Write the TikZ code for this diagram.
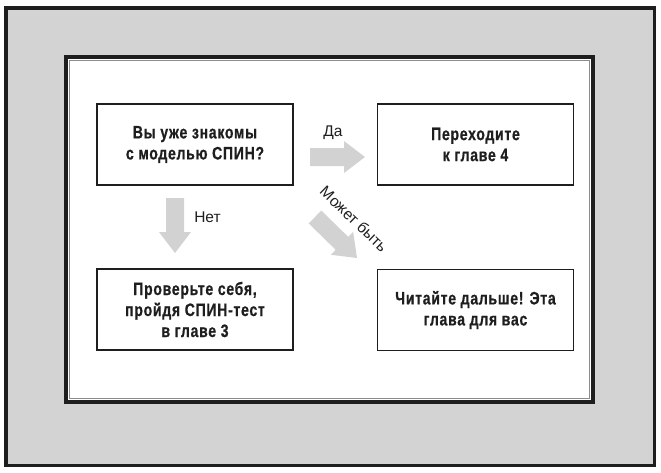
\documentclass[tikz,border=0pt]{standalone}
\usepackage{fontspec}
\setmainfont{Liberation Sans}
\newfontfamily\boxfont[FakeStretch=0.78,LetterSpace=4,FakeBold=0.6]{Liberation Sans}
\definecolor{bggray}{HTML}{D3D3D3}
\definecolor{arrowgray}{HTML}{D2D2D2}
\definecolor{inkc}{HTML}{1E1E1E}
\tikzset{
  box/.style={draw=inkc, line width=1.2pt, fill=white, minimum width=196pt, minimum height=81pt,
    align=center, inner sep=0pt, text=inkc, font=\boxfont\bfseries\fontsize{18}{21}\selectfont},
  lbl/.style={text=inkc, inner sep=0pt, font=\fontsize{15.5}{17}\selectfont},
  pics/blockarrow/.style={code={
    \fill[arrowgray] (0,-9) -- (#1-21,-9) -- (#1-21,-16) -- (#1,0) -- (#1-21,16) -- (#1-21,9) -- (0,9) -- cycle;}}
}
\begin{document}
\begin{tikzpicture}[x=1pt,y=-1pt]
\useasboundingbox (0,0) rectangle (661,472);
% frames
\draw[line width=3.5pt, fill=bggray, draw=inkc] (5.75,7.75) rectangle (654.25,465.25);
\draw[line width=3.7pt, fill=white, draw=inkc] (65.85,56.85) rectangle (593.15,401.65);
\draw[line width=0.9pt, draw=black!45] (69.8,60.3) rectangle (589.7,398.4);
% boxes
\node[box] (q)  at (195,144.5) {Вы уже знакомы\\с моделью СПИН?};
\node[box] (ch4) at (475.5,144.5) {Переходите\\к главе 4};
\node[box] (test) at (195,309.5) {Проверьте себя,\\пройдя СПИН-тест\\в главе 3};
\node[box] (read) at (475.5,310) {Читайте дальше! Эта\\глава для вас};
% arrows
\coordinate (daS) at (310,157);
\coordinate (netS) at (175,198);
\coordinate (mbS) at (315,217);
\pic at (daS) {blockarrow=55};
\pic[rotate=-90] at (netS) {blockarrow=55};
\pic[rotate=-44.3] at (mbS) {blockarrow=58.7};
% labels
\node[lbl] (da) at (333,133) {Да};
\node[lbl] (net) at (207.5,217.5) {Нет};
\node[lbl, rotate=-44] (mb) at (354,219) {Может быть};
\end{tikzpicture}
\end{document}
